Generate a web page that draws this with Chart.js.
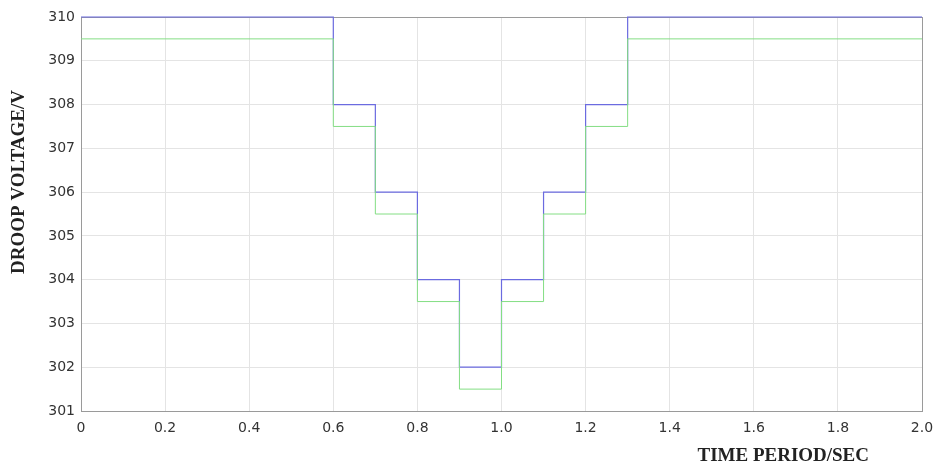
<!DOCTYPE html>
<html>
<head>
<meta charset="utf-8">
<script src="https://cdn.jsdelivr.net/npm/chart.js@4.4.0/dist/chart.umd.min.js"></script>
<style>
  html, body { margin: 0; padding: 0; background: #fff; }
  #wrap { width: 933px; height: 465px; }
</style>
</head>
<body>
<div id="wrap"><canvas id="myChart" width="933" height="465"></canvas></div>
<script>
// step change times (sec) and droop voltages (V)
var times = [0, 0.6, 0.7, 0.8, 0.9, 1.0, 1.1, 1.2, 1.3, 2.0];
var blueVolts = [310, 308, 306, 304, 302, 304, 306, 308, 310, 310];
var greenVolts = [309.5, 307.5, 305.5, 303.5, 301.5, 303.5, 305.5, 307.5, 309.5, 309.5];
var yTitle = 'DROOP VOLTAGE/V';
var xTitle = 'TIME PERIOD/SEC';

function toPoints(xs, ys) {
  var pts = [];
  for (var i = 0; i < xs.length; i++) {
    pts.push({ x: xs[i], y: ys[i] });
  }
  return pts;
}

// frame round the plot + axis titles placed like the original figure
var framePlugin = {
  id: 'frame',
  beforeDatasetsDraw: function (chart) {
    var c = chart.ctx, a = chart.chartArea;
    c.save();
    c.strokeStyle = '#9a9a9a';
    c.lineWidth = 1;
    c.strokeRect(a.left + 0.5, a.top + 0.5, a.right - a.left, a.bottom - a.top);
    c.restore();
  },
  afterDraw: function (chart) {
    var c = chart.ctx, a = chart.chartArea;
    c.save();
    c.fillStyle = '#222';
    c.font = 'bold 19px "Liberation Serif", serif';
    c.textAlign = 'center';
    c.textBaseline = 'middle';
    c.fillText(xTitle, a.left + (a.right - a.left) * 0.835, 456);
    c.translate(19, 182);
    c.rotate(-Math.PI / 2);
    c.fillText(yTitle, 0, 0);
    c.restore();
  }
};

var ctx = document.getElementById('myChart');
new Chart(ctx, {
  type: 'line',
  data: {
    datasets: [{
      label: 'green',
      data: toPoints(times, greenVolts),
      borderColor: '#84de84',
      borderWidth: 1,
      stepped: 'before',
      pointRadius: 0,
      clip: false
    }, {
      label: 'blue',
      data: toPoints(times, blueVolts),
      borderColor: '#6b6be0',
      borderWidth: 1.2,
      stepped: 'before',
      pointRadius: 0,
      clip: false
    }]
  },
  options: {
    responsive: false,
    animation: false,
    layout: { padding: { left: 0, right: 11, top: 17, bottom: 0 } },
    plugins: {
      legend: { display: false },
      tooltip: { enabled: false }
    },
    scales: {
      x: {
        type: 'linear',
        min: 0,
        max: 2,
        grid: { color: '#e4e4e4', drawTicks: false },
        border: { color: '#9a9a9a' },
        ticks: {
          stepSize: 0.2,
          padding: 9,
          color: '#333',
          font: { family: '"DejaVu Sans", sans-serif', size: 14 },
          maxRotation: 0,
          callback: function (v) {
            return v === 0 ? '0' : v.toFixed(1);
          }
        },
        afterFit: function (s) {
          s.height = 54;
          s.paddingLeft = 0;
          s.paddingRight = 0;
        }
      },
      y: {
        min: 301,
        max: 310,
        grid: { color: '#e4e4e4', drawTicks: false },
        border: { color: '#9a9a9a' },
        ticks: {
          stepSize: 1,
          padding: 6,
          color: '#333',
          font: { family: '"DejaVu Sans", sans-serif', size: 14 }
        },
        afterFit: function (s) {
          s.width = 81;
          s.paddingTop = 0;
          s.paddingBottom = 0;
        }
      }
    }
  },
  plugins: [framePlugin]
});
</script>
</body>
</html>
